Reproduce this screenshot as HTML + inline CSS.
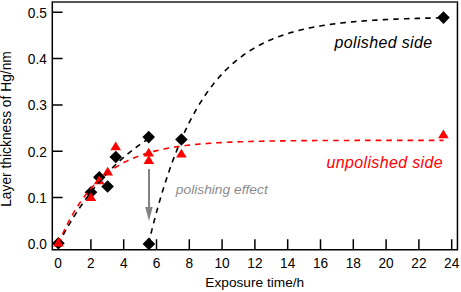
<!DOCTYPE html>
<html><head><meta charset="utf-8"><style>
html,body{margin:0;padding:0;background:#fff;}
svg{display:block;}
text{font-family:"Liberation Sans",sans-serif;}
.tl{font-size:13.7px;}
.xl{font-size:13.7px;}
.yl{font-size:13.8px;}
.it{font-size:16px;font-style:italic;letter-spacing:0.35px;}
.it2{font-size:13.8px;font-style:italic;}
</style></head><body>
<svg width="461" height="292" viewBox="0 0 461 292">
<path d="M52.3,2.0V249.65H457.45V2.0" fill="none" stroke="#000" stroke-width="1.5" stroke-linecap="square"/>
<path d="M53.05,2.0H456.7" fill="none" stroke="#1c1c1c" stroke-width="1.5"/>
<text transform="translate(46.8,249.10) scale(1,1.08)" text-anchor="end" class="tl">0.0</text>
<text transform="translate(46.8,202.80) scale(1,1.08)" text-anchor="end" class="tl">0.1</text>
<text transform="translate(46.8,156.50) scale(1,1.08)" text-anchor="end" class="tl">0.2</text>
<text transform="translate(46.8,110.20) scale(1,1.08)" text-anchor="end" class="tl">0.3</text>
<text transform="translate(46.8,63.90) scale(1,1.08)" text-anchor="end" class="tl">0.4</text>
<text transform="translate(46.8,17.60) scale(1,1.08)" text-anchor="end" class="tl">0.5</text>
<text transform="translate(58.10,268.2) scale(1,1.08)" text-anchor="middle" class="tl">0</text>
<text transform="translate(90.90,268.2) scale(1,1.08)" text-anchor="middle" class="tl">2</text>
<text transform="translate(123.70,268.2) scale(1,1.08)" text-anchor="middle" class="tl">4</text>
<text transform="translate(156.50,268.2) scale(1,1.08)" text-anchor="middle" class="tl">6</text>
<text transform="translate(189.30,268.2) scale(1,1.08)" text-anchor="middle" class="tl">8</text>
<text transform="translate(222.10,268.2) scale(1,1.08)" text-anchor="middle" class="tl">10</text>
<text transform="translate(254.90,268.2) scale(1,1.08)" text-anchor="middle" class="tl">12</text>
<text transform="translate(287.70,268.2) scale(1,1.08)" text-anchor="middle" class="tl">14</text>
<text transform="translate(320.50,268.2) scale(1,1.08)" text-anchor="middle" class="tl">16</text>
<text transform="translate(353.30,268.2) scale(1,1.08)" text-anchor="middle" class="tl">18</text>
<text transform="translate(386.10,268.2) scale(1,1.08)" text-anchor="middle" class="tl">20</text>
<text transform="translate(418.90,268.2) scale(1,1.08)" text-anchor="middle" class="tl">22</text>
<text transform="translate(451.70,268.2) scale(1,1.08)" text-anchor="middle" class="tl">24</text>
<path d="M52.3,243.80H62.599999999999994 M52.3,197.50H62.599999999999994 M52.3,151.20H62.599999999999994 M52.3,104.90H62.599999999999994 M52.3,58.60H62.599999999999994 M52.3,12.30H62.599999999999994 M90.90,249.65V239.35 M123.70,249.65V239.35 M156.50,249.65V239.35 M189.30,249.65V239.35 M222.10,249.65V239.35 M254.90,249.65V239.35 M287.70,249.65V239.35 M320.50,249.65V239.35 M353.30,249.65V239.35 M386.10,249.65V239.35 M418.90,249.65V239.35 M451.70,249.65V239.35" stroke="#000" stroke-width="1.5" fill="none"/>
<path d="M58.40,237.00L64.70,243.30L58.40,249.60L52.10,243.30Z" fill="#000"/>
<path d="M91.00,186.00L97.30,192.30L91.00,198.60L84.70,192.30Z" fill="#000"/>
<path d="M99.30,170.90L105.60,177.20L99.30,183.50L93.00,177.20Z" fill="#000"/>
<path d="M107.60,180.20L113.90,186.50L107.60,192.80L101.30,186.50Z" fill="#000"/>
<path d="M115.80,150.70L122.10,157.00L115.80,163.30L109.50,157.00Z" fill="#000"/>
<path d="M148.70,130.80L155.00,137.10L148.70,143.40L142.40,137.10Z" fill="#000"/>
<path d="M148.90,237.60L155.20,243.90L148.90,250.20L142.60,243.90Z" fill="#000"/>
<path d="M181.40,133.20L187.70,139.50L181.40,145.80L175.10,139.50Z" fill="#000"/>
<path d="M443.50,11.30L449.80,17.60L443.50,23.90L437.20,17.60Z" fill="#000"/>
<path d="M58.40,237.60L63.70,246.40L53.10,246.40Z" fill="#f00"/>
<path d="M90.90,192.20L96.20,201.00L85.60,201.00Z" fill="#f00"/>
<path d="M99.20,175.40L104.50,184.20L93.90,184.20Z" fill="#f00"/>
<path d="M107.70,166.80L113.00,175.60L102.40,175.60Z" fill="#f00"/>
<path d="M115.70,141.50L121.00,150.30L110.40,150.30Z" fill="#f00"/>
<path d="M148.70,147.80L154.00,156.60L143.40,156.60Z" fill="#f00"/>
<path d="M148.80,155.30L154.10,164.10L143.50,164.10Z" fill="#f00"/>
<path d="M181.40,148.70L186.70,157.50L176.10,157.50Z" fill="#f00"/>
<path d="M443.40,129.50L448.70,138.30L438.10,138.30Z" fill="#f00"/>
<polyline points="58.40,243.80 58.85,242.94 59.30,242.08 59.75,241.22 60.20,240.37 60.65,239.53 61.10,238.69 61.55,237.85 62.01,237.02 62.46,236.20 62.91,235.38 63.36,234.56 63.81,233.75 64.26,232.94 64.71,232.13 65.16,231.33 65.61,230.54 66.06,229.75 66.51,228.96 66.96,228.18 67.41,227.40 67.86,226.63 68.31,225.86 68.76,225.09 69.22,224.33 69.67,223.58 70.12,222.82 70.57,222.08 71.02,221.33 71.47,220.59 71.92,219.86 72.37,219.12 72.82,218.40 73.27,217.67 73.72,216.95 74.17,216.23 74.62,215.52 75.07,214.81 75.52,214.11 75.98,213.41 76.43,212.71 76.88,212.02 77.33,211.33 77.78,210.65 78.23,209.96 78.68,209.29 79.13,208.61 79.58,207.94 80.03,207.27 80.48,206.61 80.93,205.95 81.38,205.30 81.83,204.64 82.28,204.00 82.73,203.35 83.19,202.71 83.64,202.07 84.09,201.44 84.54,200.80 84.99,200.18 85.44,199.55 85.89,198.93 86.34,198.31 86.79,197.70 87.24,197.09 87.69,196.48 88.14,195.88 88.59,195.28 89.04,194.68 89.49,194.09 89.94,193.50 90.40,192.91 90.85,192.32 91.30,191.74 91.75,191.17 92.20,190.59 92.65,190.02 93.10,189.45 93.55,188.89 94.00,188.32 94.45,187.76 94.90,187.21 95.35,186.66 95.80,186.11 96.25,185.56 96.70,185.01 97.16,184.47 97.61,183.94 98.06,183.40 98.51,182.87 98.96,182.34 99.41,181.81 99.86,181.29 100.31,180.77 100.76,180.25 101.21,179.74 101.66,179.22 102.11,178.71 102.56,178.21 103.01,177.70 103.46,177.20 103.91,176.71 104.37,176.21 104.82,175.72 105.27,175.23 105.72,174.74 106.17,174.26 106.62,173.77 107.07,173.29 107.52,172.82 107.97,172.34 108.42,171.87 108.87,171.40 109.32,170.94 109.77,170.47 110.22,170.01 110.67,169.55 111.13,169.10 111.58,168.64 112.03,168.19 112.48,167.74 112.93,167.30 113.38,166.85 113.83,166.41 114.28,165.97 114.73,165.54 115.18,165.10 115.63,164.67 116.08,164.24 116.53,163.81 116.98,163.39 117.43,162.97 117.88,162.55 118.34,162.13 118.79,161.71 119.24,161.30 119.69,160.89 120.14,160.48 120.59,160.07 121.04,159.67 121.49,159.27 121.94,158.87 122.39,158.47 122.84,158.07 123.29,157.68 123.74,157.29 124.19,156.90 124.64,156.51 125.10,156.13 125.55,155.75 126.00,155.37 126.45,154.99 126.90,154.61 127.35,154.24 127.80,153.87 128.25,153.50 128.70,153.13 129.15,152.76 129.60,152.40 130.05,152.04 130.50,151.68 130.95,151.32 131.40,150.96 131.85,150.61 132.31,150.25 132.76,149.90 133.21,149.56 133.66,149.21 134.11,148.86 134.56,148.52 135.01,148.18 135.46,147.84 135.91,147.50 136.36,147.17 136.81,146.84 137.26,146.50 137.71,146.17 138.16,145.85 138.61,145.52 139.07,145.20 139.52,144.87 139.97,144.55 140.42,144.23 140.87,143.92 141.32,143.60 141.77,143.29 142.22,142.97 142.67,142.66 143.12,142.36 143.57,142.05 144.02,141.74 144.47,141.44 144.92,141.14 145.37,140.84 145.82,140.54 146.28,140.24 146.73,139.95 147.18,139.65 147.63,139.36 148.08,139.07 148.53,138.78" fill="none" stroke="#000" stroke-width="1.6" stroke-dasharray="5.5 4.89" stroke-dashoffset="0.3"/>
<polyline points="148.53,243.80 149.27,240.68 150.00,237.60 150.74,234.57 151.48,231.58 152.22,228.62 152.95,225.71 153.69,222.84 154.43,220.01 155.17,217.22 155.90,214.46 156.64,211.75 157.38,209.07 158.11,206.43 158.85,203.82 159.59,201.25 160.33,198.72 161.06,196.22 161.80,193.75 162.54,191.32 163.28,188.92 164.01,186.56 164.75,184.23 165.49,181.93 166.23,179.66 166.96,177.42 167.70,175.21 168.44,173.04 169.18,170.89 169.91,168.77 170.65,166.68 171.39,164.62 172.13,162.59 172.86,160.59 173.60,158.62 174.34,156.67 175.08,154.75 175.81,152.85 176.55,150.98 177.29,149.14 178.03,147.32 178.76,145.53 179.50,143.76 180.24,142.01 180.97,140.29 181.71,138.60 182.45,136.93 183.19,135.28 183.92,133.65 184.66,132.04 185.40,130.46 186.14,128.90 186.87,127.36 187.61,125.84 188.35,124.34 189.09,122.87 189.82,121.41 190.56,119.97 191.30,118.56 192.04,117.16 192.77,115.78 193.51,114.42 194.25,113.08 194.99,111.76 195.72,110.45 196.46,109.17 197.20,107.90 197.94,106.65 198.67,105.42 199.41,104.20 200.15,103.00 200.88,101.82 201.62,100.65 202.36,99.50 203.10,98.36 203.83,97.24 204.57,96.14 205.31,95.05 206.05,93.97 206.78,92.91 207.52,91.87 208.26,90.84 209.00,89.82 209.73,88.82 210.47,87.83 211.21,86.86 211.95,85.90 212.68,84.95 213.42,84.01 214.16,83.09 214.90,82.18 215.63,81.28 216.37,80.40 217.11,79.52 217.85,78.66 218.58,77.82 219.32,76.98 220.06,76.15 220.80,75.34 221.53,74.53 222.27,73.74 223.01,72.96 223.74,72.19 224.48,71.43 225.22,70.68 225.96,69.94 226.69,69.21 227.43,68.49 228.17,67.79 228.91,67.09 229.64,66.40 230.38,65.72 231.12,65.05 231.86,64.38 232.59,63.73 233.33,63.09 234.07,62.45 234.81,61.83 235.54,61.21 236.28,60.60 237.02,60.00 237.76,59.41 238.49,58.82 239.23,58.25 239.97,57.68 240.71,57.12 241.44,56.57 242.18,56.02 242.92,55.48 243.66,54.95 244.39,54.43 245.13,53.92 245.87,53.41 246.60,52.91 247.34,52.41 248.08,51.92 248.82,51.44 249.55,50.97 250.29,50.50 251.03,50.04 251.77,49.58 252.50,49.13 253.24,48.69 253.98,48.25 254.72,47.82 255.45,47.40 256.19,46.98 256.93,46.57 257.67,46.16 258.40,45.76 259.14,45.36 259.88,44.97 260.62,44.58 261.35,44.20 262.09,43.83 262.83,43.46 263.57,43.09 264.30,42.73 265.04,42.38 265.78,42.03 266.51,41.68 267.25,41.34 267.99,41.01 268.73,40.68 269.46,40.35 270.20,40.03 270.94,39.71 271.68,39.40 272.41,39.09 273.15,38.78 273.89,38.48 274.63,38.19 275.36,37.89 276.10,37.61 276.84,37.32 277.58,37.04 278.31,36.77 279.05,36.49 279.79,36.22 280.53,35.96 281.26,35.70 282.00,35.44 282.74,35.18 283.48,34.93 284.21,34.69 284.95,34.44 285.69,34.20 286.43,33.96 287.16,33.73 287.90,33.50 288.64,33.27 289.37,33.05 290.11,32.82 290.85,32.61 291.59,32.39 292.32,32.18 293.06,31.97 293.80,31.76 294.54,31.56 295.27,31.36 296.01,31.16 296.75,30.96 297.49,30.77 298.22,30.58 298.96,30.39 299.70,30.21 300.44,30.02 301.17,29.84 301.91,29.67 302.65,29.49 303.39,29.32 304.12,29.15 304.86,28.98 305.60,28.81 306.34,28.65 307.07,28.49 307.81,28.33 308.55,28.17 309.28,28.02 310.02,27.87 310.76,27.72 311.50,27.57 312.23,27.42 312.97,27.28 313.71,27.13 314.45,26.99 315.18,26.86 315.92,26.72 316.66,26.58 317.40,26.45 318.13,26.32 318.87,26.19 319.61,26.06 320.35,25.94 321.08,25.82 321.82,25.69 322.56,25.57 323.30,25.45 324.03,25.34 324.77,25.22 325.51,25.11 326.25,24.99 326.98,24.88 327.72,24.77 328.46,24.67 329.20,24.56 329.93,24.45 330.67,24.35 331.41,24.25 332.14,24.15 332.88,24.05 333.62,23.95 334.36,23.86 335.09,23.76 335.83,23.67 336.57,23.57 337.31,23.48 338.04,23.39 338.78,23.30 339.52,23.22 340.26,23.13 340.99,23.04 341.73,22.96 342.47,22.88 343.21,22.79 343.94,22.71 344.68,22.63 345.42,22.56 346.16,22.48 346.89,22.40 347.63,22.33 348.37,22.25 349.11,22.18 349.84,22.11 350.58,22.04 351.32,21.97 352.06,21.90 352.79,21.83 353.53,21.76 354.27,21.70 355.00,21.63 355.74,21.56 356.48,21.50 357.22,21.44 357.95,21.38 358.69,21.32 359.43,21.25 360.17,21.20 360.90,21.14 361.64,21.08 362.38,21.02 363.12,20.97 363.85,20.91 364.59,20.86 365.33,20.80 366.07,20.75 366.80,20.70 367.54,20.64 368.28,20.59 369.02,20.54 369.75,20.49 370.49,20.44 371.23,20.40 371.97,20.35 372.70,20.30 373.44,20.25 374.18,20.21 374.91,20.16 375.65,20.12 376.39,20.08 377.13,20.03 377.86,19.99 378.60,19.95 379.34,19.91 380.08,19.86 380.81,19.82 381.55,19.78 382.29,19.75 383.03,19.71 383.76,19.67 384.50,19.63 385.24,19.59 385.98,19.56 386.71,19.52 387.45,19.49 388.19,19.45 388.93,19.42 389.66,19.38 390.40,19.35 391.14,19.31 391.88,19.28 392.61,19.25 393.35,19.22 394.09,19.19 394.83,19.16 395.56,19.12 396.30,19.09 397.04,19.06 397.77,19.04 398.51,19.01 399.25,18.98 399.99,18.95 400.72,18.92 401.46,18.89 402.20,18.87 402.94,18.84 403.67,18.81 404.41,18.79 405.15,18.76 405.89,18.74 406.62,18.71 407.36,18.69 408.10,18.66 408.84,18.64 409.57,18.62 410.31,18.59 411.05,18.57 411.79,18.55 412.52,18.53 413.26,18.50 414.00,18.48 414.74,18.46 415.47,18.44 416.21,18.42 416.95,18.40 417.68,18.38 418.42,18.36 419.16,18.34 419.90,18.32 420.63,18.30 421.37,18.28 422.11,18.26 422.85,18.24 423.58,18.23 424.32,18.21 425.06,18.19 425.80,18.17 426.53,18.16 427.27,18.14 428.01,18.12 428.75,18.11 429.48,18.09 430.22,18.07 430.96,18.06 431.70,18.04 432.43,18.03 433.17,18.01 433.91,18.00 434.65,17.98 435.38,17.97 436.12,17.95 436.86,17.94 437.60,17.93 438.33,17.91 439.07,17.90 439.81,17.89 440.54,17.87 441.28,17.86 442.02,17.85 442.76,17.83 443.49,17.82" fill="none" stroke="#000" stroke-width="1.6" stroke-dasharray="5.6 5.03" stroke-dashoffset="0.2"/>
<polyline points="58.40,243.80 59.36,241.49 60.33,239.23 61.29,237.02 62.25,234.86 63.21,232.74 64.18,230.68 65.14,228.66 66.10,226.69 67.06,224.76 68.03,222.87 68.99,221.03 69.95,219.22 70.92,217.46 71.88,215.74 72.84,214.05 73.80,212.40 74.77,210.79 75.73,209.22 76.69,207.68 77.65,206.17 78.62,204.70 79.58,203.26 80.54,201.86 81.51,200.48 82.47,199.14 83.43,197.83 84.39,196.54 85.36,195.28 86.32,194.06 87.28,192.86 88.24,191.68 89.21,190.53 90.17,189.41 91.13,188.32 92.10,187.24 93.06,186.19 94.02,185.17 94.98,184.17 95.95,183.19 96.91,182.23 97.87,181.29 98.83,180.38 99.80,179.48 100.76,178.61 101.72,177.75 102.69,176.92 103.65,176.10 104.61,175.30 105.57,174.52 106.54,173.75 107.50,173.01 108.46,172.28 109.43,171.56 110.39,170.86 111.35,170.18 112.31,169.51 113.28,168.86 114.24,168.22 115.20,167.60 116.16,166.99 117.13,166.40 118.09,165.81 119.05,165.24 120.02,164.69 120.98,164.14 121.94,163.61 122.90,163.09 123.87,162.58 124.83,162.08 125.79,161.60 126.75,161.12 127.72,160.66 128.68,160.20 129.64,159.76 130.61,159.32 131.57,158.90 132.53,158.48 133.49,158.08 134.46,157.68 135.42,157.29 136.38,156.91 137.34,156.54 138.31,156.18 139.27,155.83 140.23,155.48 141.20,155.14 142.16,154.81 143.12,154.49 144.08,154.17 145.05,153.86 146.01,153.56 146.97,153.26 147.93,152.97 148.90,152.69 149.86,152.41 150.82,152.14 151.79,151.88 152.75,151.62 153.71,151.37 154.67,151.12 155.64,150.88 156.60,150.64 157.56,150.41 158.52,150.19 159.49,149.97 160.45,149.75 161.41,149.54 162.38,149.34 163.34,149.13 164.30,148.94 165.26,148.74 166.23,148.56 167.19,148.37 168.15,148.19 169.11,148.02 170.08,147.84 171.04,147.68 172.00,147.51 172.97,147.35 173.93,147.19 174.89,147.04 175.85,146.89 176.82,146.74 177.78,146.60 178.74,146.46 179.70,146.32 180.67,146.19 181.63,146.06 182.59,145.93 183.56,145.80 184.52,145.68 185.48,145.56 186.44,145.44 187.41,145.33 188.37,145.22 189.33,145.11 190.29,145.00 191.26,144.90 192.22,144.79 193.18,144.69 194.15,144.60 195.11,144.50 196.07,144.41 197.03,144.32 198.00,144.23 198.96,144.14 199.92,144.05 200.88,143.97 201.85,143.89 202.81,143.81 203.77,143.73 204.74,143.66 205.70,143.58 206.66,143.51 207.62,143.44 208.59,143.37 209.55,143.30 210.51,143.23 211.48,143.17 212.44,143.10 213.40,143.04 214.36,142.98 215.33,142.92 216.29,142.86 217.25,142.81 218.21,142.75 219.18,142.70 220.14,142.64 221.10,142.59 222.07,142.54 223.03,142.49 223.99,142.44 224.95,142.40 225.92,142.35 226.88,142.30 227.84,142.26 228.80,142.22 229.77,142.17 230.73,142.13 231.69,142.09 232.66,142.05 233.62,142.01 234.58,141.98 235.54,141.94 236.51,141.90 237.47,141.87 238.43,141.83 239.39,141.80 240.36,141.77 241.32,141.73 242.28,141.70 243.25,141.67 244.21,141.64 245.17,141.61 246.13,141.58 247.10,141.55 248.06,141.53 249.02,141.50 249.98,141.47 250.95,141.45 251.91,141.42 252.87,141.40 253.84,141.37 254.80,141.35 255.76,141.33 256.72,141.30 257.69,141.28 258.65,141.26 259.61,141.24 260.57,141.22 261.54,141.20 262.50,141.18 263.46,141.16 264.43,141.14 265.39,141.12 266.35,141.11 267.31,141.09 268.28,141.07 269.24,141.05 270.20,141.04 271.16,141.02 272.13,141.01 273.09,140.99 274.05,140.98 275.02,140.96 275.98,140.95 276.94,140.93 277.90,140.92 278.87,140.91 279.83,140.89 280.79,140.88 281.75,140.87 282.72,140.85 283.68,140.84 284.64,140.83 285.61,140.82 286.57,140.81 287.53,140.80 288.49,140.79 289.46,140.78 290.42,140.77 291.38,140.76 292.34,140.75 293.31,140.74 294.27,140.73 295.23,140.72 296.20,140.71 297.16,140.70 298.12,140.69 299.08,140.68 300.05,140.68 301.01,140.67 301.97,140.66 302.94,140.65 303.90,140.64 304.86,140.64 305.82,140.63 306.79,140.62 307.75,140.62 308.71,140.61 309.67,140.60 310.64,140.60 311.60,140.59 312.56,140.59 313.53,140.58 314.49,140.57 315.45,140.57 316.41,140.56 317.38,140.56 318.34,140.55 319.30,140.55 320.26,140.54 321.23,140.54 322.19,140.53 323.15,140.53 324.12,140.52 325.08,140.52 326.04,140.51 327.00,140.51 327.97,140.50 328.93,140.50 329.89,140.50 330.85,140.49 331.82,140.49 332.78,140.48 333.74,140.48 334.71,140.48 335.67,140.47 336.63,140.47 337.59,140.47 338.56,140.46 339.52,140.46 340.48,140.46 341.44,140.45 342.41,140.45 343.37,140.45 344.33,140.45 345.30,140.44 346.26,140.44 347.22,140.44 348.18,140.43 349.15,140.43 350.11,140.43 351.07,140.43 352.03,140.42 353.00,140.42 353.96,140.42 354.92,140.42 355.89,140.42 356.85,140.41 357.81,140.41 358.77,140.41 359.74,140.41 360.70,140.41 361.66,140.40 362.62,140.40 363.59,140.40 364.55,140.40 365.51,140.40 366.48,140.39 367.44,140.39 368.40,140.39 369.36,140.39 370.33,140.39 371.29,140.39 372.25,140.38 373.21,140.38 374.18,140.38 375.14,140.38 376.10,140.38 377.07,140.38 378.03,140.38 378.99,140.38 379.95,140.37 380.92,140.37 381.88,140.37 382.84,140.37 383.80,140.37 384.77,140.37 385.73,140.37 386.69,140.37 387.66,140.37 388.62,140.36 389.58,140.36 390.54,140.36 391.51,140.36 392.47,140.36 393.43,140.36 394.39,140.36 395.36,140.36 396.32,140.36 397.28,140.36 398.25,140.36 399.21,140.35 400.17,140.35 401.13,140.35 402.10,140.35 403.06,140.35 404.02,140.35 404.99,140.35 405.95,140.35 406.91,140.35 407.87,140.35 408.84,140.35 409.80,140.35 410.76,140.35 411.72,140.35 412.69,140.34 413.65,140.34 414.61,140.34 415.58,140.34 416.54,140.34 417.50,140.34 418.46,140.34 419.43,140.34 420.39,140.34 421.35,140.34 422.31,140.34 423.28,140.34 424.24,140.34 425.20,140.34 426.17,140.34 427.13,140.34 428.09,140.34 429.05,140.34 430.02,140.34 430.98,140.34 431.94,140.34 432.90,140.34 433.87,140.33 434.83,140.33 435.79,140.33 436.76,140.33 437.72,140.33 438.68,140.33 439.64,140.33 440.61,140.33 441.57,140.33 442.53,140.33 443.49,140.33" fill="none" stroke="#f00" stroke-width="1.6" stroke-dasharray="5.6 5.03" stroke-dashoffset="0.2"/>
<path d="M149,169V208" stroke="#838383" stroke-width="2"/>
<path d="M145.2,206.9H152.7L148.95,220.9Z" fill="#838383"/>
<text x="334.5" y="47.8" class="it" fill="#000">polished side</text>
<text x="326.5" y="168.1" class="it" fill="#f00">unpolished side</text>
<text transform="translate(175.8,193.8) scale(1,0.9)" class="it2" fill="#8c8c8c">polishing effect</text>
<text x="254.75" y="287.3" text-anchor="middle" class="xl">Exposure time/h</text>
<text transform="translate(11.0,129) rotate(-90)" text-anchor="middle" class="yl">Layer thickness of Hg/nm</text>
</svg>
</body></html>
